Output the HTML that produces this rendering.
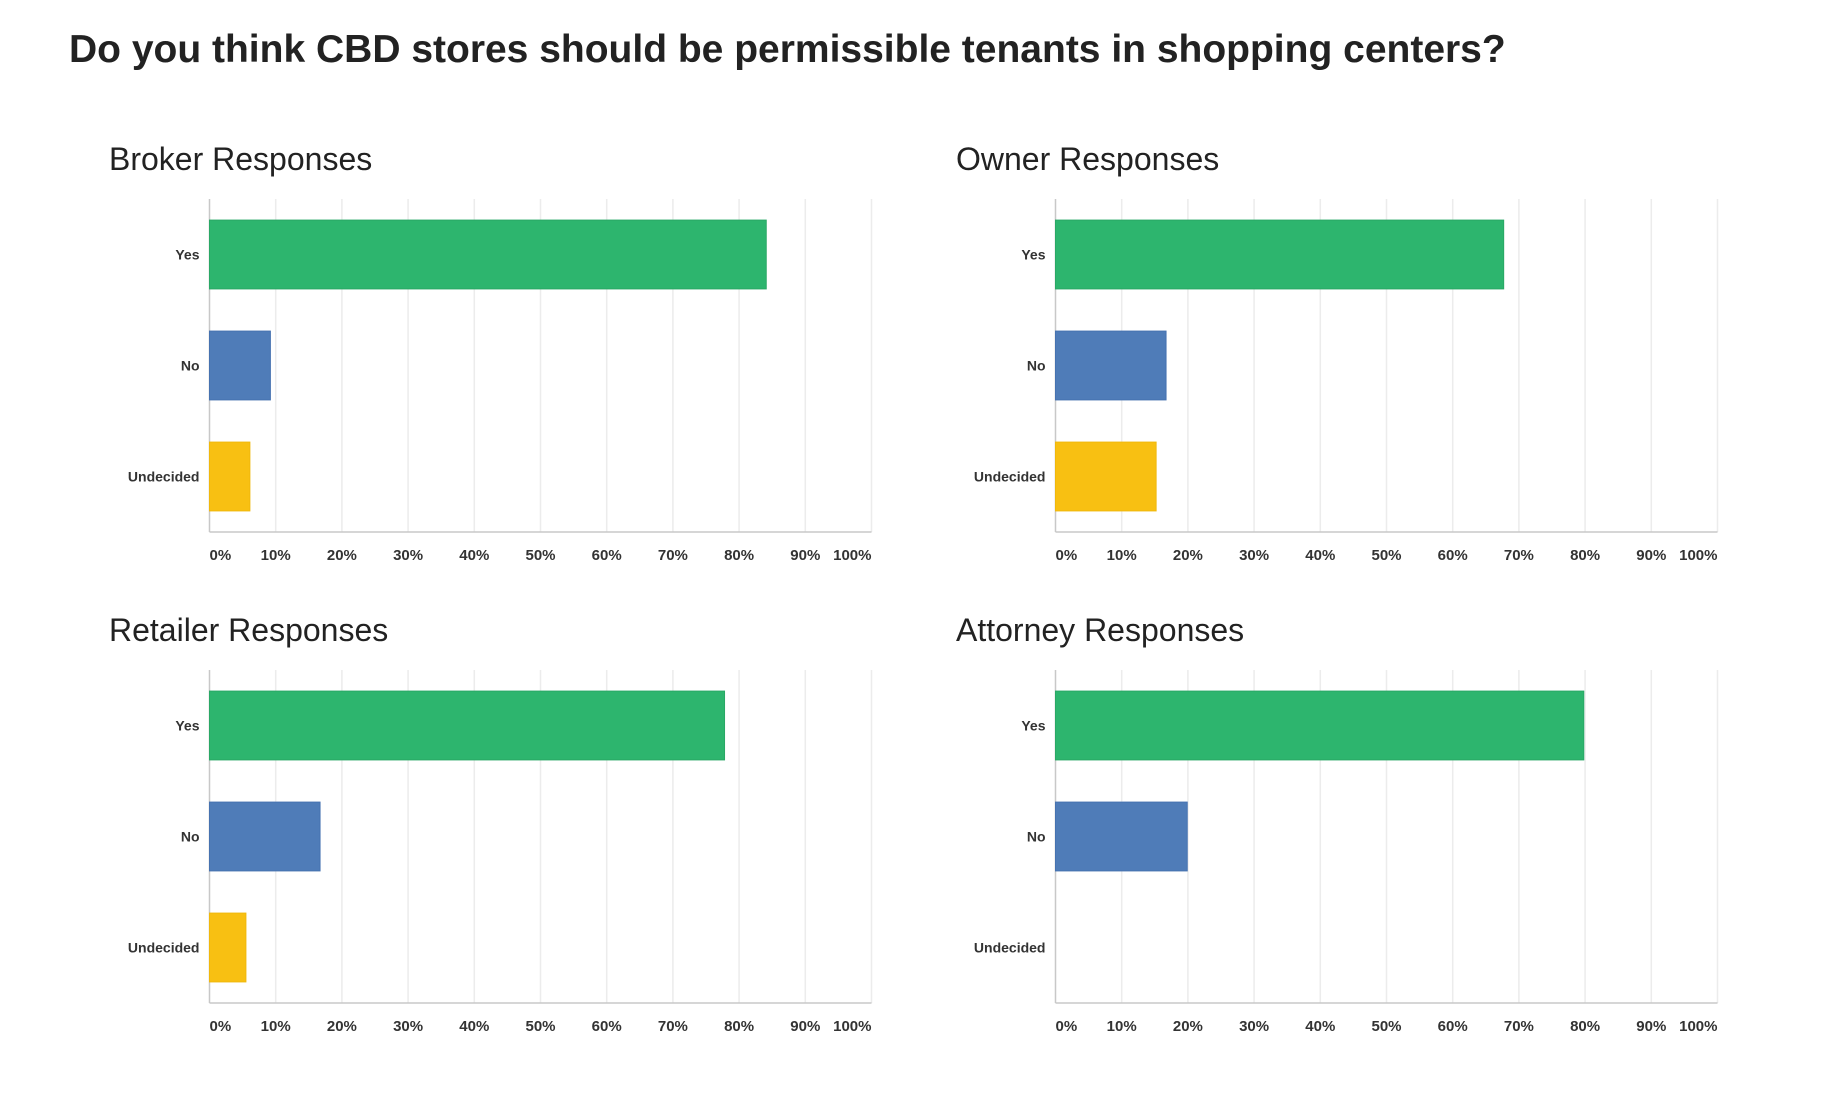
<!DOCTYPE html>
<html><head><meta charset="utf-8"><style>
html,body{margin:0;padding:0;background:#fff;}
svg{display:block;font-family:"Liberation Sans",sans-serif;}
</style></head><body>
<svg id="chart" width="1840" height="1104" viewBox="0 0 1840 1104" xmlns="http://www.w3.org/2000/svg">
<rect width="1840" height="1104" fill="#fff"/>
<text x="69" y="62" font-size="39" font-weight="bold" fill="#222">Do you think CBD stores should be permissible tenants in shopping centers?</text>
</svg>
<script>
const categories = ["Yes", "No", "Undecided"];
const panelTitles = ["Broker Responses", "Owner Responses", "Retailer Responses", "Attorney Responses"];
const brokerValues = [84.1, 9.2, 6.1];
const ownerValues = [67.7, 16.7, 15.2];
const retailerValues = [77.8, 16.7, 5.5];
const attorneyValues = [79.8, 19.9, 0];
const tickValues = [0, 10, 20, 30, 40, 50, 60, 70, 80, 90, 100];
const tickLabels = ["0%", "10%", "20%", "30%", "40%", "50%", "60%", "70%", "80%", "90%", "100%"];

const NS = "http://www.w3.org/2000/svg";
const svg = document.getElementById("chart");
const colors = ["#2db56e", "#4f7cb8", "#f8c012"];
const strokes = ["#29a865", "#4672b0", "#f0b80c"];
const allValues = [brokerValues, ownerValues, retailerValues, attorneyValues];
const panels = [
  {x0: 209.5, y0: 199, tx: 109},
  {x0: 1055.5, y0: 199, tx: 956},
  {x0: 209.5, y0: 670, tx: 109},
  {x0: 1055.5, y0: 670, tx: 956}
];
const W = 662, H = 333;

function mk(tag, attrs, parent) {
  const e = document.createElementNS(NS, tag);
  for (const k in attrs) e.setAttribute(k, attrs[k]);
  (parent || svg).appendChild(e);
  return e;
}

panels.forEach((p, pi) => {
  const vals = allValues[pi];
  const g = mk("g", {});
  
  
  const xs = v => p.x0 + v / 100 * W;
  const band = H / categories.length;
  const t = mk("text", {x: p.tx, y: p.y0 - 29, "font-size": 32, fill: "#222"}, g);
  t.textContent = panelTitles[pi];
  
  
  tickValues.forEach((tv, i) => {
    if (i > 0) {
      const l = mk("line", {x1: xs(tv), x2: xs(tv), y1: p.y0, y2: p.y0 + H, stroke: "#ececec", "stroke-width": 1.5}, g);
      
      
    }
    const anchor = i === 0 ? "start" : (i === tickValues.length - 1 ? "end" : "middle");
    const tl = mk("text", {x: xs(tv), y: p.y0 + H + 28, "font-size": 15, "font-weight": "bold", fill: "#333", "text-anchor": anchor}, g);
    tl.textContent = tickLabels[i];
    
    
  });
  const ax = mk("line", {x1: p.x0, x2: p.x0, y1: p.y0, y2: p.y0 + H, stroke: "#c8c8c8", "stroke-width": 1.5}, g);
  
  
  const bx = mk("line", {x1: p.x0, x2: p.x0 + W, y1: p.y0 + H, y2: p.y0 + H, stroke: "#c8c8c8", "stroke-width": 1.5}, g);
  
  
  categories.forEach((c, ci) => {
    const cy = p.y0 + band * (ci + 0.5);
    const bh = band * 0.62;
    if (vals[ci] > 0) {
      const r = mk("rect", {x: p.x0, y: cy - bh / 2, width: xs(vals[ci]) - p.x0, height: bh, fill: colors[ci], stroke: strokes[ci], "stroke-width": 1}, g);
      
      
    }
    const lt = mk("text", {x: p.x0 - 10, y: cy + 5, "font-size": 14, "font-weight": "bold", fill: "#333", "text-anchor": "end"}, g);
    lt.textContent = c;
    
    
  });
});
</script>
</body></html>
